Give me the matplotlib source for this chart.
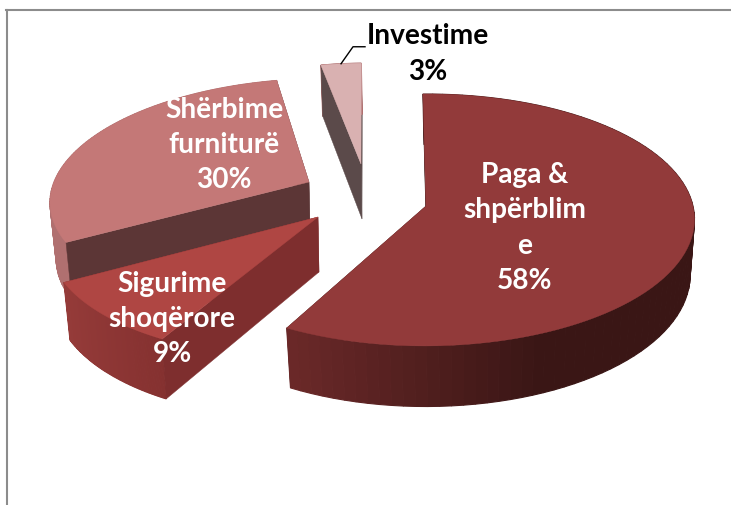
import numpy as np
import matplotlib
matplotlib.use("Agg")
import matplotlib.pyplot as plt
from matplotlib.colors import to_rgb

names = ["Paga &\nshpërblim\ne", "Sigurime\nshoqërore", "Shërbime\nfurniturë", "Investime"]
values = [58, 9, 30, 3]

top_colors = ["#923A3A", "#AF4643", "#C47877", "#D9B1B1"]
cut_colors = ["#3A1615", "#7E2E2E", "#5C3636", "#5B4A4A"]
side_light = ["#6E2A2A", "#953B39", "#B07070", "#B07070"]
side_dark = ["#3A1615", "#853130", "#B07070", "#B07070"]
label_colors = ["white", "white", "white", "black"]

# slice layout, in pixels: apex x, apex y, x radius, y radius, shear
apex_x = [426, 318, 309, 361]
apex_y = [207, 218, 183, 165]
rad_x = [267, 266, 255, 239]
rad_y = [124.4, 124.4, 115, 112]
shear = [-0.01, -0.15, -0.146, -0.04]
label_x = [525, 172, 224, 428]
label_y = [228, 319, 145, 54]

start_angle = -1
persp = 0.111
depth = 55
bottom_sx = 0.98
bottom_sy = 1.04


def project(i, theta, r=1.0, bottom=False):
    t = np.radians(theta)
    u = r * np.sin(t)
    v = r * np.cos(t)
    w = 1 + persp * v
    dy = -rad_y[i] * v / w
    dx = rad_x[i] * u / w + shear[i] * dy
    if bottom:
        return apex_x[i] + bottom_sx * dx + 1, apex_y[i] + bottom_sy * dy + depth
    return apex_x[i] + dx, apex_y[i] + dy


def mix(a, b, t):
    return tuple((1 - t) * np.array(to_rgb(a)) + t * np.array(to_rgb(b)))


def cut_face(i, a, z):
    xa, ya = project(i, a)
    xb, yb = project(i, a, bottom=True)
    xc, yc = project(i, a, r=0, bottom=True)
    ax.fill([xa, xb, xc, apex_x[i]], [ya, yb, yc, apex_y[i]],
            color=cut_colors[i], lw=0.3, zorder=z)


fig = plt.figure(figsize=(7.31, 5.06), dpi=100)
ax = fig.add_axes([6.5 / 731, 0, 1 - 6.5 / 731, 1 - 10.5 / 506])
ax.set_xlim(6.5, 731)
ax.set_ylim(506, 10.5)
ax.set_xticks([])
ax.set_yticks([])
for side in ["right", "bottom"]:
    ax.spines[side].set_visible(False)
for side in ["left", "top"]:
    ax.spines[side].set_color("#8C8C8C")
    ax.spines[side].set_linewidth(1.5)

# sweep of each slice, clockwise from the top
edges = start_angle + np.concatenate([[0], np.cumsum(values)]) * 360.0 / sum(values)

# back slices first, the big one last
for i in [3, 2, 1, 0]:
    a0, a1 = edges[i], edges[i + 1]
    th = np.linspace(a0, a1, 90)
    base = i * -10

    cut_face(i, a1, base)

    # outer wall as thin strips, so the shade can change along it
    u = np.sin(np.radians(th))
    if i == 0:
        shade = np.interp(u, [-0.5, 0.4], [0, 1])
    else:
        shade = (u - u.min()) / (u.max() - u.min())
    for k in range(len(th) - 1):
        xa, ya = project(i, th[k])
        xb, yb = project(i, th[k + 1])
        xc, yc = project(i, th[k + 1], bottom=True)
        xd, yd = project(i, th[k], bottom=True)
        col = mix(side_light[i], side_dark[i], shade[k])
        ax.fill([xa, xb, xc, xd], [ya, yb, yc, yd], color=col, lw=0.8, zorder=base + 1)

    cut_face(i, a0, base + 2)

    # top face
    xs, ys = project(i, th)
    ax.fill(np.append(xs, apex_x[i]), np.append(ys, apex_y[i]),
            color=top_colors[i], lw=0.3, zorder=base + 3)

for i in range(len(names)):
    ax.text(label_x[i], label_y[i], "%s\n%d%%" % (names[i], values[i]),
            ha="center", va="center", color=label_colors[i],
            family="Lato", fontweight="bold", fontsize=20.2, linespacing=1.45, zorder=5)

# leader line for the small slice
lx, ly = project(3, (edges[3] + edges[4]) / 2)
ax.plot([lx, lx + 12, lx + 24], [ly, ly - 17, ly - 17], color="black", lw=1, zorder=4)

fig.savefig("out.png", dpi=100)
